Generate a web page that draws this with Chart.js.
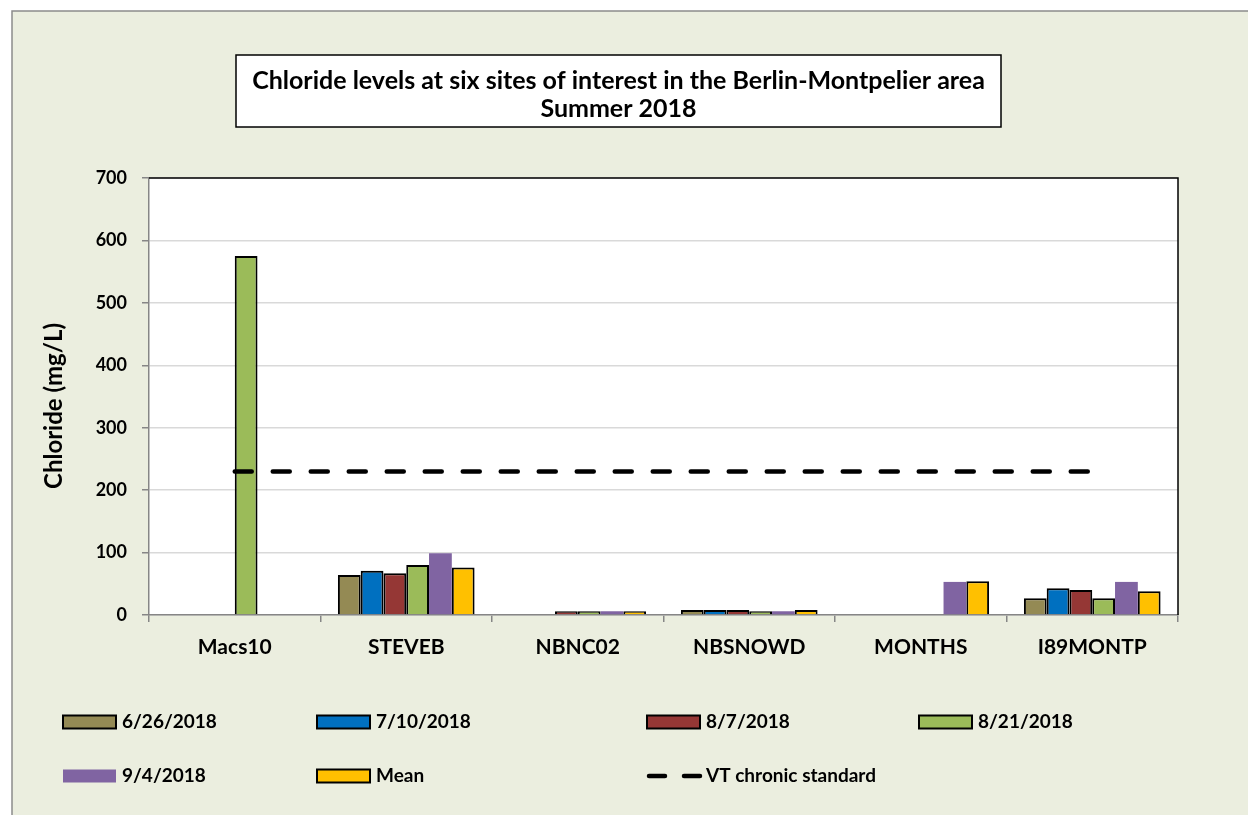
<!DOCTYPE html>
<html>
<head>
<meta charset="utf-8">
<script src="https://cdn.jsdelivr.net/npm/chart.js@4.4.0/dist/chart.umd.min.js"></script>
<style>
html, body { margin: 0; padding: 0; background: #fff; }
#wrap { width: 1248px; height: 815px; }
</style>
</head>
<body>
<div id="wrap"><canvas id="grafico"></canvas></div>
<script>
// dados (mg/L)
const sites = ["Macs10", "STEVEB", "NBNC02", "NBSNOWD", "MONTHS", "I89MONTP"];
const jun26 = [null, 64, null, 8, null, 27];
const jul10 = [null, 71, null, 8, null, 43];
const aug07 = [null, 67, 6, 8, null, 40];
const aug21 = [575, 80, 6, 6, null, 27];
const sep04 = [null, 99, 6, 6, 53, 53];
const mean = [null, 76, 6, 8, 54, 38];
const vtStandard = [230, 230, 230, 230, 230, 230];

const seriesNames = ["6/26/2018", "7/10/2018", "8/7/2018", "8/21/2018", "9/4/2018", "Mean"];
const seriesColors = ["#948A54", "#0070C0", "#953735", "#9BBB59", "#8064A2", "#FFC000"];
const seriesBorders = [2, 2, 2, 2, 0, 2];
const yTicks = [0, 100, 200, 300, 400, 500, 600, 700];

const titleLines = ["Chloride levels at six sites of interest in the Berlin-Montpelier area", "Summer 2018"];
const yTitle = "Chloride (mg/L)";

const fonte = "Lato, 'DejaVu Sans', sans-serif";
const bg = "#EBEEDF";

const barSets = [jun26, jul10, aug07, aug21, sep04, mean].map(function (d, i) {
    return {
        type: "bar",
        label: seriesNames[i],
        data: d,
        backgroundColor: seriesColors[i],
        borderColor: "#000",
        borderWidth: seriesBorders[i],
        order: 1
    };
});

const lineSet = {
    type: "line",
    label: "VT chronic standard",
    data: vtStandard,
    borderColor: "#000",
    borderWidth: 4.5,
    borderDash: [17, 21],
    borderCapStyle: "round",
    pointRadius: 0,
    fill: false,
    order: 0
};

// fundo, moldura, título, eixo y e legenda
const desenho = {
    id: "desenho",
    beforeDraw: function (chart) {
        const ctx = chart.ctx;
        const a = chart.chartArea;
        ctx.save();
        ctx.fillStyle = "#fff";
        ctx.fillRect(0, 0, chart.width, chart.height);
        ctx.fillStyle = bg;
        ctx.fillRect(12, 11, chart.width - 12, chart.height - 11);
        ctx.strokeStyle = "#8C8C8C";
        ctx.lineWidth = 1.5;
        ctx.beginPath();
        ctx.moveTo(12, chart.height);
        ctx.lineTo(12, 11);
        ctx.lineTo(chart.width, 11);
        ctx.stroke();
        ctx.fillStyle = "#fff";
        ctx.fillRect(a.left, a.top, a.right - a.left, a.bottom - a.top);
        ctx.restore();
    },
    afterDraw: function (chart) {
        const ctx = chart.ctx;
        const a = chart.chartArea;
        ctx.save();
        // borda preta superior e direita
        ctx.strokeStyle = "#000";
        ctx.lineWidth = 1.5;
        ctx.beginPath();
        ctx.moveTo(a.left, a.top);
        ctx.lineTo(a.right, a.top);
        ctx.lineTo(a.right, a.bottom);
        ctx.stroke();

        // caixa do título
        ctx.fillStyle = "#fff";
        ctx.fillRect(236, 55, 765, 72);
        ctx.strokeRect(236, 55, 765, 72);
        ctx.fillStyle = "#000";
        ctx.font = "bold 25px " + fonte;
        ctx.textAlign = "center";
        ctx.textBaseline = "middle";
        ctx.fillText(titleLines[0], 618.5, 81);
        ctx.fillText(titleLines[1], 618.5, 109);

        // título do eixo y
        ctx.save();
        ctx.font = "bold 24px " + fonte;
        ctx.translate(54, 406);
        ctx.rotate(-Math.PI / 2);
        ctx.fillText(yTitle, 0, 0);
        ctx.restore();

        // legenda em grade
        const colX = [63, 317, 647, 919];
        const rowY = [722, 776];
        const itens = chart.data.datasets.filter(function (d) { return d.type === "bar"; }).concat([lineSet]);
        ctx.font = "bold 19px " + fonte;
        ctx.textAlign = "left";
        itens.forEach(function (d, i) {
            const x = colX[i % 4];
            const y = rowY[Math.floor(i / 4)];
            if (d.type === "bar") {
                ctx.fillStyle = d.backgroundColor;
                ctx.fillRect(x, y - 6.5, 53, 13);
                if (d.borderWidth) {
                    ctx.strokeStyle = "#000";
                    ctx.lineWidth = 2;
                    ctx.strokeRect(x, y - 6.5, 53, 13);
                }
            } else {
                ctx.strokeStyle = "#000";
                ctx.lineWidth = 4.5;
                ctx.lineCap = "round";
                ctx.beginPath();
                ctx.moveTo(x + 2, y); ctx.lineTo(x + 18, y);
                ctx.moveTo(x + 37, y); ctx.lineTo(x + 53, y);
                ctx.stroke();
            }
            ctx.fillStyle = "#000";
            ctx.fillText(d.label, x + 59, y);
        });
        ctx.restore();
    }
};

new Chart("grafico", {
    data: {
        labels: sites,
        datasets: [lineSet].concat(barSets)
    },
    options: {
        responsive: true,
        maintainAspectRatio: false,
        animation: false,
        layout: {
            padding: { left: 0, top: 178, right: 70, bottom: 0 }
        },
        datasets: {
            bar: {
                categoryPercentage: 0.797,
                barPercentage: 1
            }
        },
        plugins: {
            legend: { display: false },
            title: { display: false },
            tooltip: { enabled: false }
        },
        scales: {
            x: {
                afterFit: function (s) { s.height = 200; },
                grid: {
                    offset: true,
                    drawOnChartArea: false,
                    tickLength: 7,
                    tickColor: "#868686",
                    lineWidth: 1.5
                },
                border: { display: true, color: "#868686", width: 1.5 },
                ticks: {
                    color: "#000",
                    padding: 13,
                    font: { family: fonte, size: 21, weight: "bold" }
                }
            },
            y: {
                min: 0,
                max: 700,
                afterFit: function (s) { s.width = 149; },
                afterBuildTicks: function (s) {
                    s.ticks = yTicks.map(function (v) { return { value: v }; });
                },
                grid: {
                    color: "#D9D9D9",
                    lineWidth: 1.5,
                    tickLength: 7,
                    tickColor: "#868686"
                },
                border: { display: true, color: "#868686", width: 1.5 },
                ticks: {
                    color: "#000",
                    padding: 15,
                    font: { family: fonte, size: 18, weight: "bold" }
                }
            }
        }
    },
    plugins: [desenho]
});
</script>
</body>
</html>
